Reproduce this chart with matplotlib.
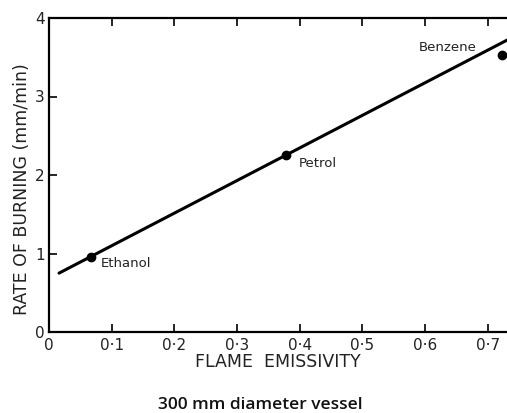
import matplotlib
matplotlib.use("Agg")
import matplotlib.pyplot as plt

# Data
fuels = ["Ethanol", "Petrol", "Benzene"]
emissivity = [0.067, 0.378, 0.722]
burn_rate = [0.96, 2.25, 3.53]
fit_x = [0.016, 0.731]
fit_y = [0.75, 3.72]
xticks = [0, 0.1, 0.2, 0.3, 0.4, 0.5, 0.6, 0.7]
xtick_labels = ["0", "0·1", "0·2", "0·3", "0·4", "0·5", "0·6", "0·7"]
yticks = [0, 1, 2, 3, 4]
ytick_labels = ["0", "1", "2", "3", "4"]

plt.rcParams['font.family'] = ['DejaVu Sans']
fig = plt.figure(figsize=(5.07, 4.13), dpi=100)
ax = fig.add_axes([49/507, 81/413, 1 - 49/507, (332-18)/413])

ax.plot(fit_x, fit_y, color='black', lw=2.2, solid_capstyle='round')
ax.plot(emissivity, burn_rate, 'o', color='black', ms=6)

offsets = {"Ethanol": (7, -5), "Petrol": (9, -6), "Benzene": (-60, 5)}
for name, x, y in zip(fuels, emissivity, burn_rate):
    dx, dy = offsets[name]
    ax.annotate(name, (x, y), xytext=(dx, dy), textcoords='offset points',
                fontsize=9.5, color='#222222', va='center')

ax.set_xlim(0, 0.7305)
ax.set_ylim(0, 4)
ax.set_xticks(xticks)
ax.set_xticklabels(xtick_labels, fontsize=11, color='#222222')
ax.set_yticks(yticks)
ax.set_yticklabels(ytick_labels, fontsize=11, color='#222222')
ax.tick_params(direction='in', length=6, width=1.2, top=True, right=False, pad=3)
ax.tick_params(axis='x', pad=4)
ax.spines['right'].set_visible(False)
for s in ['left', 'bottom', 'top']:
    ax.spines[s].set_linewidth(1.6)

ax.set_xlabel("FLAME  EMISSIVITY", fontsize=12.5, color='#222222', labelpad=0)
ax.set_ylabel("RATE OF BURNING (mm/min)", fontsize=12.5, color='#222222', labelpad=4)
ax.yaxis.set_label_coords(-0.04, 0.455)

fig.text(260/507, 1 - 405/413, "300 mm diameter vessel", ha='center', va='center',
         fontsize=12.5, family='Open Sans', weight='semibold', color='#111111')

fig.savefig("out.png", dpi=100)
